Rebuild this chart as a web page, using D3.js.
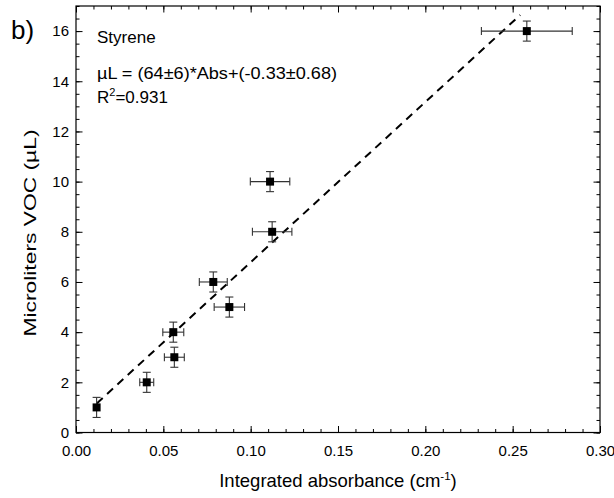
<!DOCTYPE html>
<html><head><meta charset="utf-8">
<script src="https://cdn.jsdelivr.net/npm/d3@7"></script>
<style>
body{margin:0;background:#fff;}
svg{display:block;font-family:"Liberation Sans",Arial,sans-serif;}
</style></head>
<body>
<svg id="c" width="614" height="498"></svg>
<script>
// ---- data ----
const absorbance = [0.0118, 0.0405, 0.0563, 0.0557, 0.0878, 0.0786, 0.1111, 0.1123, 0.2581];
const volume     = [1, 2, 3, 4, 5, 6, 10, 8, 16];
const absErr     = [0.0015, 0.004, 0.0057, 0.006, 0.0087, 0.008, 0.0113, 0.0113, 0.026];
const volErr     = [0.4, 0.4, 0.4, 0.4, 0.4, 0.4, 0.4, 0.4, 0.4];
const fitX = [0.0119, 0.2543];
const fitY = [1.16, 16.64];
const xTicks = [0, 0.05, 0.10, 0.15, 0.20, 0.25, 0.30];
const yTicks = [0, 2, 4, 6, 8, 10, 12, 14, 16];
const xMinorTicks = d3.range(0, 31).map(i => i / 100);
const yMinorTicks = d3.range(0, 35).map(i => i / 2);

const svg = d3.select("#c");
const L = 76, R = 600, T = 6, B = 432.5;
const x = d3.scaleLinear().domain([0, 0.30]).range([L, R]);
const y = d3.scaleLinear().domain([0, 17]).range([B, T]);

function styleAxis(g) {
  g.select(".domain").remove();
  g.selectAll("line").attr("stroke", "#000").attr("stroke-width", 1);
  g.selectAll("text").attr("font-size", 15).attr("fill", "#000").attr("font-family", "Liberation Sans, Arial, sans-serif");
}
// bottom
svg.append("g").attr("transform", `translate(0,${B})`)
  .call(d3.axisBottom(x).tickValues(xMinorTicks).tickSize(-3.5).tickFormat(""))
  .call(styleAxis);
svg.append("g").attr("transform", `translate(0,${B})`)
  .call(d3.axisBottom(x).tickValues(xTicks).tickSize(-6.5).tickPadding(13).tickFormat(d3.format(".2f")))
  .call(styleAxis);
// top
svg.append("g").attr("transform", `translate(0,${T})`)
  .call(d3.axisTop(x).tickValues(xMinorTicks).tickSize(-3.5).tickFormat(""))
  .call(styleAxis);
svg.append("g").attr("transform", `translate(0,${T})`)
  .call(d3.axisTop(x).tickValues(xTicks).tickSize(-6.5).tickFormat(""))
  .call(styleAxis);
// left
svg.append("g").attr("transform", `translate(${L},0)`)
  .call(d3.axisLeft(y).tickValues(yMinorTicks).tickSize(-3.5).tickFormat(""))
  .call(styleAxis);
svg.append("g").attr("transform", `translate(${L},0)`)
  .call(d3.axisLeft(y).tickValues(yTicks).tickSize(-6.5).tickPadding(7).tickFormat(d3.format("d")))
  .call(styleAxis);
// right
svg.append("g").attr("transform", `translate(${R},0)`)
  .call(d3.axisRight(y).tickValues(yMinorTicks).tickSize(-3.5).tickFormat(""))
  .call(styleAxis);
svg.append("g").attr("transform", `translate(${R},0)`)
  .call(d3.axisRight(y).tickValues(yTicks).tickSize(-6.5).tickFormat(""))
  .call(styleAxis);

// frame
svg.append("rect").attr("x", L).attr("y", T).attr("width", R - L).attr("height", B - T)
  .attr("fill", "none").attr("stroke", "#000").attr("stroke-width", 1.2);

// fit line
svg.append("line")
  .attr("x1", x(fitX[0])).attr("y1", y(fitY[0]))
  .attr("x2", x(fitX[1])).attr("y2", y(fitY[1]))
  .attr("stroke", "#000").attr("stroke-width", 2).attr("stroke-dasharray", "8,6");

// error bars
const data = absorbance.map((a, i) => ({a, v: volume[i], ea: absErr[i], ev: volErr[i]}));
const eb = svg.append("g").attr("stroke", "#333").attr("stroke-width", 1.1);
const cap = 4;
data.forEach(d => {
  const cx = x(d.a), cy = y(d.v);
  eb.append("line").attr("x1", x(d.a - d.ea)).attr("x2", x(d.a + d.ea)).attr("y1", cy).attr("y2", cy);
  if (d.ea > 0.003) {
    eb.append("line").attr("x1", x(d.a - d.ea)).attr("x2", x(d.a - d.ea)).attr("y1", cy - cap).attr("y2", cy + cap);
    eb.append("line").attr("x1", x(d.a + d.ea)).attr("x2", x(d.a + d.ea)).attr("y1", cy - cap).attr("y2", cy + cap);
  }
  eb.append("line").attr("x1", cx).attr("x2", cx).attr("y1", y(d.v - d.ev)).attr("y2", y(d.v + d.ev));
  eb.append("line").attr("x1", cx - cap).attr("x2", cx + cap).attr("y1", y(d.v - d.ev)).attr("y2", y(d.v - d.ev));
  eb.append("line").attr("x1", cx - cap).attr("x2", cx + cap).attr("y1", y(d.v + d.ev)).attr("y2", y(d.v + d.ev));
});
// markers
svg.append("g").selectAll("rect").data(data).join("rect")
  .attr("x", d => x(d.a) - 4).attr("y", d => y(d.v) - 4)
  .attr("width", 8).attr("height", 8).attr("fill", "#000");

// texts
svg.append("text").attr("x", 11).attr("y", 39).attr("font-size", 26).text("b)");
svg.append("text").attr("x", 97).attr("y", 43).attr("font-size", 17).text("Styrene");
svg.append("text").attr("x", 97).attr("y", 79).attr("font-size", 17)
  .attr("textLength", 240).attr("lengthAdjust", "spacingAndGlyphs")
  .text("µL = (64±6)*Abs+(-0.33±0.68)");
const r2 = svg.append("text").attr("x", 97).attr("y", 103).attr("font-size", 17);
r2.append("tspan").text("R");
r2.append("tspan").attr("font-size", 11).attr("dy", -7).text("2");
r2.append("tspan").attr("dy", 7).text("=0.931");

const xt = svg.append("text").attr("x", 338).attr("y", 487).attr("text-anchor", "middle").attr("font-size", 18.5);
xt.append("tspan").text("Integrated absorbance (cm");
xt.append("tspan").attr("font-size", 11.5).attr("dy", -7).text("-1");
xt.append("tspan").attr("dy", 7).text(")");

svg.append("text").attr("transform", `translate(36,233) rotate(-90)`)
  .attr("text-anchor", "middle").attr("font-size", 17)
  .attr("textLength", 207).attr("lengthAdjust", "spacingAndGlyphs")
  .text("Microliters VOC (µL)");
</script>
</body></html>
